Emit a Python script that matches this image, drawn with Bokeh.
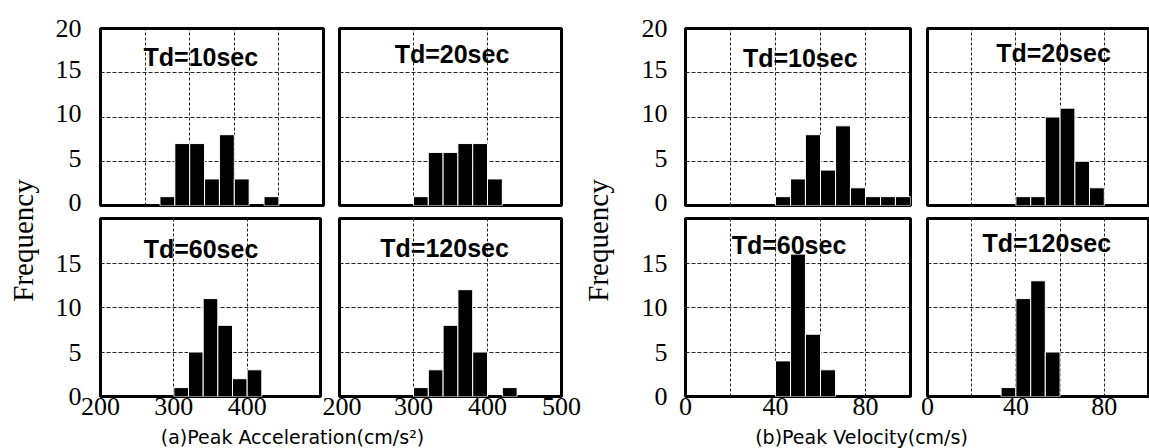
from bokeh.plotting import figure
from bokeh.models import FixedTicker, Label, Range1d, ColumnDataSource
from bokeh.layouts import row, column
from bokeh.embed import file_html
from bokeh.resources import INLINE

# ---------------- data ----------------
acc_edges = [280, 300, 320, 340, 360, 380, 400, 420, 440]
acc_10 = [1, 7, 7, 3, 8, 3, 0, 1]
acc_20 = [0, 1, 6, 6, 7, 7, 3, 0]
acc_60 = [0, 1, 5, 11, 8, 2, 3, 0]
acc_120 = [0, 1, 3, 8, 12, 5, 0, 1]

vel_edges = [33.3, 40.0, 46.7, 53.3, 60.0, 66.7, 73.3, 80.0, 86.7, 93.3, 100.0]
vel_10 = [0, 1, 3, 8, 4, 9, 2, 1, 1, 1]
vel_20 = [0, 1, 1, 10, 11, 5, 2, 0, 0, 0]
vel_60 = [0, 4, 16, 7, 3, 0, 0, 0, 0, 0]
vel_120 = [1, 11, 13, 5, 0, 0, 0, 0, 0, 0]

titles = ["Td=10sec", "Td=20sec", "Td=60sec", "Td=120sec"]
acc_range = (200, 500)
vel_range = (0, 100)
freq_range = (0, 20)
acc_ticks_bl = [200, 300, 400]
acc_ticks_br = [200, 300, 400, 500]
vel_ticks = [0, 40, 80]
y_ticks_top = [0, 5, 10, 15, 20]
y_ticks_bottom = [0, 5, 10, 15]
acc_grid_tl = [260, 320, 380, 440]
acc_grid = [300, 400]
vel_grid = [20, 40, 60, 80]
y_grid = [5, 10, 15]
xlabel_a = "(a)Peak Acceleration(cm/s\u00b2)"
xlabel_b = "(b)Peak Velocity(cm/s)"
ylabel = "Frequency"

SERIF = "Liberation Serif"
SANS = "Liberation Sans"
TICK_SIZE = "26px"


def panel(width, height, xr, edges, counts, title, tx, ty, xgrid, yticks, xticks,
          bl, br, bt, bb, ystand=19, ylift=0.0):
    p = figure(width=width, height=height,
               x_range=Range1d(*xr), y_range=Range1d(*freq_range),
               output_backend="svg", toolbar_location=None, title=None,
               x_axis_location="below" if xticks else None,
               y_axis_location="left" if yticks else None,
               min_border_left=bl, min_border_right=br,
               min_border_top=bt, min_border_bottom=bb)
    p.background_fill_color = "white"
    p.border_fill_color = "white"
    p.outline_line_color = "black"
    p.outline_line_width = 3
    p.xgrid.ticker = FixedTicker(ticks=xgrid)
    p.ygrid.ticker = FixedTicker(ticks=y_grid)
    p.xgrid.grid_line_dash = "3 2"
    p.ygrid.grid_line_dash = "4 2"
    p.grid.grid_line_color = "#222222"
    p.grid.grid_line_width = 1
    if xticks:
        ax = p.xaxis[0]
        ax.ticker = FixedTicker(ticks=xticks)
        ax.axis_line_color = None
        ax.major_tick_line_color = None
        ax.minor_tick_line_color = None
        ax.major_tick_out = 0
        ax.major_tick_in = 0
        ax.major_label_standoff = 1
        ax.major_label_text_font = SERIF
        ax.major_label_text_font_size = TICK_SIZE
        ax.major_label_text_color = "black"
    if yticks:
        ay = p.yaxis[0]
        top = freq_range[1]
        # labels sit slightly above their ticks, as in the original; the top one stays on the frame
        pos = [v + ylift if v + ylift <= top else v for v in yticks]
        overrides = {}
        for ps, v in zip(pos, yticks):
            overrides[ps] = str(v)
            overrides[repr(ps)] = str(v)
        ay.ticker = FixedTicker(ticks=pos)
        ay.major_label_overrides = overrides
        ay.axis_line_color = None
        ay.major_tick_line_color = None
        ay.minor_tick_line_color = None
        ay.major_tick_out = 0
        ay.major_tick_in = 0
        ay.major_label_standoff = ystand
        ay.major_label_text_font = SERIF
        ay.major_label_text_font_size = TICK_SIZE
        ay.major_label_text_color = "black"
    lefts, rights, tops = [], [], []
    for i, c in enumerate(counts):
        if c > 0:
            lefts.append(edges[i])
            rights.append(edges[i + 1])
            tops.append(c)
    src = ColumnDataSource(dict(left=lefts, right=rights, top=tops))
    p.quad(left="left", right="right", bottom=0, top="top", source=src,
           fill_color="black", line_color="white", line_width=1)
    p.add_layout(Label(x=tx, y=ty, text=title, text_font=SANS, text_font_style="bold",
                       text_font_size="25px", text_align="center",
                       text_baseline="middle", text_color="black"))
    return p


def text_fig(width, height, txt, x, y, angle=0, size="19px", font="DejaVu Sans"):
    p = figure(width=width, height=height, x_range=Range1d(0, width), y_range=Range1d(0, height),
               output_backend="svg", toolbar_location=None, title=None,
               x_axis_location=None, y_axis_location=None, min_border=0)
    p.grid.visible = False
    p.outline_line_color = None
    p.background_fill_color = "white"
    p.border_fill_color = "white"
    p.add_layout(Label(x=x, y=y, text=txt, angle=angle, angle_units="deg",
                       text_font=font, text_font_size=size, text_align="center",
                       text_baseline="middle", text_color="black"))
    return p


TOP_H, BOT_H, TITLE_H = 217, 208, 23
LIFT = 0.35

# ---------------- left group: acceleration ----------------
a_tl = panel(291, TOP_H, acc_range, acc_edges, acc_10, titles[0], 335, 16.8,
             acc_grid_tl, y_ticks_top, None, 60, 8, 28, 12, ylift=LIFT)
a_tr = panel(250, TOP_H, acc_range, acc_edges, acc_20, titles[1], 352, 17.1,
             acc_grid, None, None, 8, 20, 28, 12)
a_bl = panel(282, BOT_H, acc_range, acc_edges, acc_60, titles[2], 337, 16.6,
             acc_grid, y_ticks_bottom, acc_ticks_bl, 60, 2, 1, 29)
a_br = panel(259, BOT_H, acc_range, acc_edges, acc_120, titles[3], 342, 16.7,
             acc_grid, None, acc_ticks_br, 17, 20, 1, 29)
a_title = text_fig(541, TITLE_H, xlabel_a, 252, 11.5)
a_freq = text_fig(40, 448, ylabel, 22, 208, angle=90, size="29px", font=SERIF)

# ---------------- right group: velocity ----------------
b_tl = panel(298, TOP_H, vel_range, vel_edges, vel_10, titles[0], 51, 16.7,
             vel_grid, y_ticks_top, None, 65, 8, 28, 12, ystand=18, ylift=LIFT)
b_tr = panel(231, TOP_H, vel_range, vel_edges, vel_20, titles[1], 57, 17.2,
             vel_grid, None, None, 9, 1, 28, 12)
b_bl = panel(298, BOT_H, vel_range, vel_edges, vel_60, titles[2], 46, 17.0,
             vel_grid, y_ticks_bottom, vel_ticks, 65, 8, 1, 29, ystand=18)
b_br = panel(231, BOT_H, vel_range, vel_edges, vel_120, titles[3], 54, 17.2,
             vel_grid, None, vel_ticks, 9, 1, 1, 29)
b_title = text_fig(529, TITLE_H, xlabel_b, 241, 11.5)
b_freq = text_fig(39, 448, ylabel, 16, 208, angle=90, size="29px", font=SERIF)

left_block = column(row(a_tl, a_tr), row(a_bl, a_br), a_title)
right_block = column(row(b_tl, b_tr), row(b_bl, b_br), b_title)
layout = row(a_freq, left_block, b_freq, right_block)

open("out.html", "w").write(file_html(layout, INLINE))
